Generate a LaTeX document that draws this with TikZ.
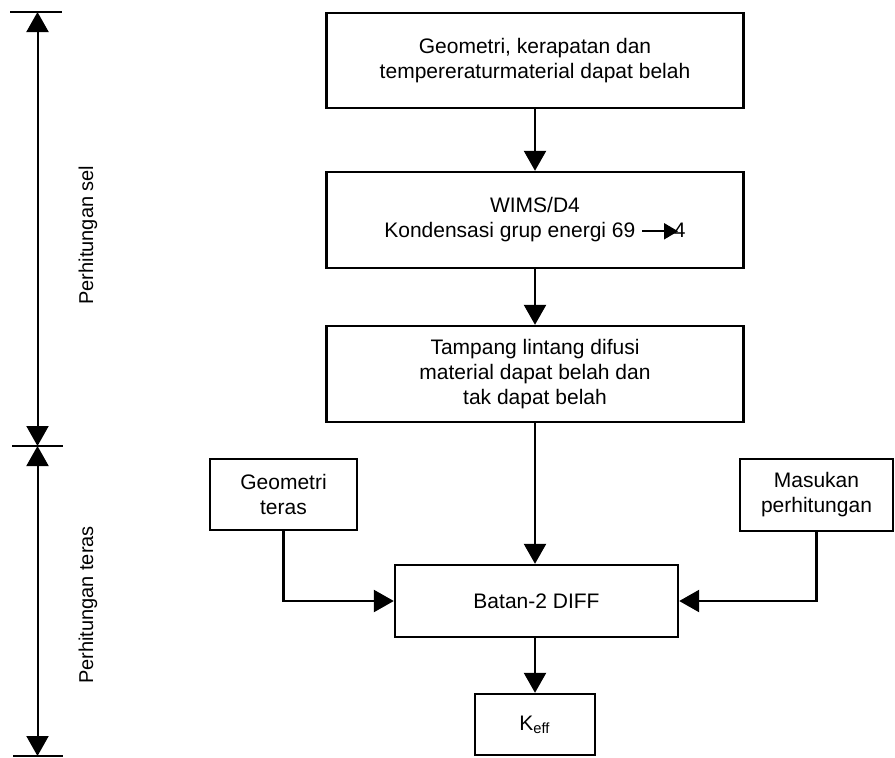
\documentclass[tikz,border=0pt]{standalone}
\usepackage{fontspec}
\setmainfont{Liberation Sans}
\usetikzlibrary{arrows.meta}

\tikzset{
    box/.style={draw, line width=1.2pt, align=center, inner sep=0pt,
        font=\fontsize{10.5}{12.5}\selectfont},
    flow/.style={line width=1.2pt, -{Triangle[width=11pt,length=10pt]}},
    span/.style={line width=1pt, {Triangle[width=11pt,length=10pt]}-{Triangle[width=11pt,length=10pt]}},
    tick/.style={line width=1pt},
    side/.style={font=\fontsize{10}{10}\selectfont},
}

\begin{document}
\begin{tikzpicture}[x=0.5pt, y=-0.5pt]
    \useasboundingbox (0,0) rectangle (895,757);

    % the box of the geometry and density
    \node[box, minimum width=208.5pt, minimum height=47.5pt] (geo) at (535,60.5)
        {Geometri, kerapatan dan\\tempereraturmaterial dapat belah};
    % the box of WIMS/D4
    \node[box, minimum width=208.5pt, minimum height=48pt] (wims) at (535,220)
        {WIMS/D4\\Kondensasi grup energi 69
        \tikz[baseline=-0.6ex]\draw[line width=0.9pt,-{Triangle[width=8pt,length=7pt]}] (0pt,0pt) -- (18pt,0pt);\kern-2.5pt 4};
    % the box of the cross sections
    \node[box, minimum width=208.5pt, minimum height=48pt] (tampang) at (535,374)
        {Tampang lintang difusi\\material dapat belah dan\\tak dapat belah};

    % the box of the core geometry (left)
    \node[box, minimum width=73.5pt, minimum height=35.5pt] (geoteras) at (283.5,494.5)
        {Geometri\\teras};
    % the box of the input (right)
    \node[box, minimum width=76.5pt, minimum height=36pt] (masukan) at (816.5,495)
        {Masukan\\perhitungan};
    % the box of Batan-2 DIFF
    \node[box, minimum width=141.5pt, minimum height=36pt] (batan) at (536.5,601)
        {Batan-2 DIFF};
    % the box of K_eff
    \node[box, minimum width=60pt, minimum height=30.5pt] (keff) at (535,724.5)
        {K\textsubscript{eff}};

    % arrows down the middle
    \draw[flow] (geo) -- (wims);
    \draw[flow] (wims) -- (tampang);
    \draw[flow] (tampang.south) -- (tampang.south |- batan.north);
    \draw[flow] (keff.north |- batan.south) -- (keff.north);

    % arrows from the side boxes into Batan-2 DIFF
    \draw[flow] (geoteras.south) |- (batan.west);
    \draw[flow] (masukan.south) |- (batan.east);

    % the scale on the left
    \coordinate (seltop) at (37.5,12);
    \coordinate (selbot) at (37.5,446);
    \coordinate (terasbot) at (37.5,756);
    \draw[tick] (10,12) -- (62,12);
    \draw[tick] (12,446) -- (63,446);
    \draw[tick] (13,756) -- (63,756);
    \draw[span] (seltop) -- (selbot);
    \draw[span] (selbot) -- (terasbot);

    % the labels of the scale
    \node[side, rotate=90] (sel) at (88,235) {Perhitungan sel};
    \node[side, rotate=90] (teras) at (88,605) {Perhitungan teras};
\end{tikzpicture}
\end{document}
